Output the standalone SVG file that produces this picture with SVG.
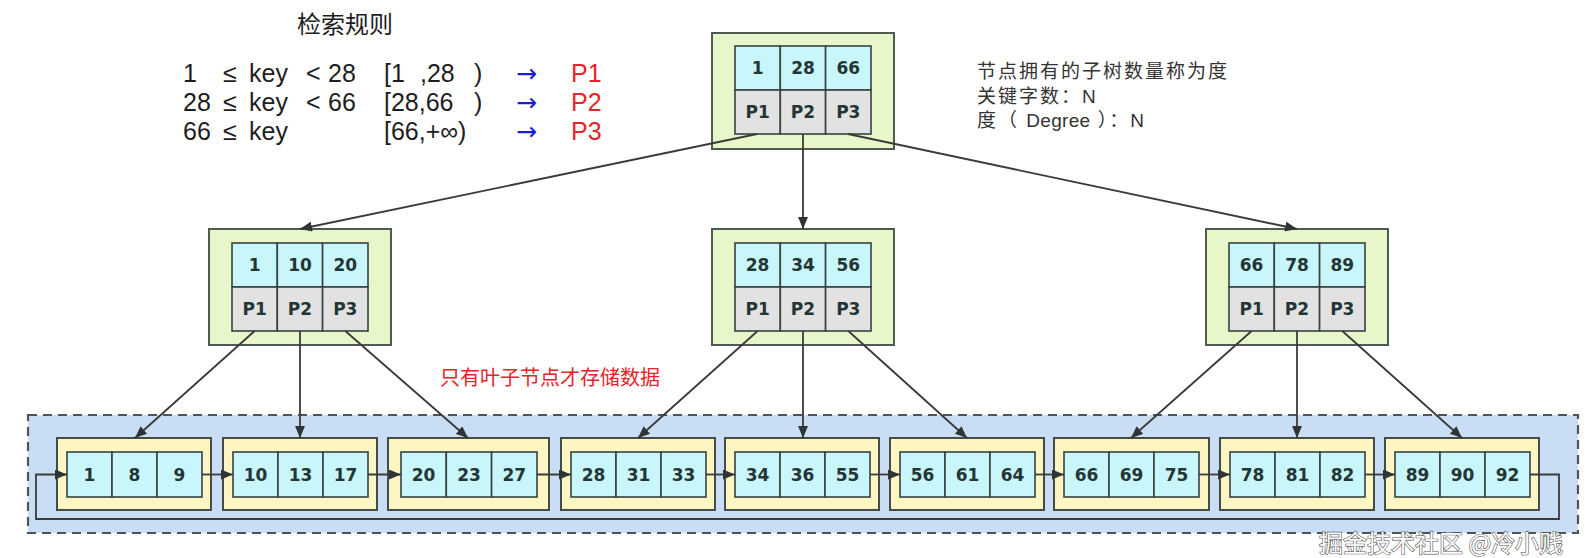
<svg xmlns="http://www.w3.org/2000/svg" width="1596" height="558" viewBox="0 0 1596 558">
<defs>
<style>
.bg{fill:#ffffff}
.cont{fill:#c9def4;stroke:#4f5457;stroke-width:2.2;stroke-dasharray:9 6}
.gout{fill:#e7f7c9;stroke:#4f5a50;stroke-width:2}
.yout{fill:#fdf6c2;stroke:#454b47;stroke-width:2}
.key{fill:#c8f6fa;stroke:#374141;stroke-width:1.6}
.ptr{fill:#e2e2e2;stroke:#374141;stroke-width:1.6}
.num{font-family:"DejaVu Sans",sans-serif;font-weight:bold;font-size:17px;fill:#243535;text-anchor:middle}
.title{font-family:"Noto Sans CJK SC",sans-serif;font-size:24px;fill:#1e1e1e}
.rule{font-family:"Liberation Sans","DejaVu Sans",sans-serif;font-size:25px;fill:#1e1e1e}
.arr{font-family:"DejaVu Sans",sans-serif;fill:#1b1bd0}
.red{fill:#e8222a}
.note{font-family:"Liberation Sans","Noto Sans CJK SC",sans-serif;font-size:19px;letter-spacing:2px;fill:#333333}
.lat{letter-spacing:0.3px}
.rnote{font-family:"Noto Sans CJK SC",sans-serif;font-size:20px;fill:#e8222a}
.wm{font-family:"Noto Sans CJK SC",sans-serif;font-size:24px;fill:#ffffff;stroke:#555555;stroke-width:1.2;paint-order:stroke}
.ln{fill:none;stroke:#3a3a3a;stroke-width:1.8}
</style>
<marker id="ah" viewBox="0 0 12 10" refX="12" refY="5" markerWidth="12" markerHeight="10" markerUnits="userSpaceOnUse" orient="auto">
<path d="M0,0 L12,5 L0,10 z" fill="#2f3535"/>
</marker>
</defs>
<rect class="bg" x="0" y="0" width="1596" height="558"/>

<g id="rules">
<text class="title" x="297" y="33">检索规则</text>
<text class="rule" y="82"><tspan x="183">1</tspan><tspan x="223">≤</tspan><tspan x="249">key</tspan><tspan x="306">&lt;</tspan><tspan x="328">28</tspan><tspan x="384">[1</tspan><tspan x="420">,28</tspan><tspan x="474">)</tspan><tspan x="516" class="arr">→</tspan><tspan x="571" class="red">P1</tspan></text>
<text class="rule" y="111"><tspan x="183">28</tspan><tspan x="223">≤</tspan><tspan x="249">key</tspan><tspan x="306">&lt;</tspan><tspan x="328">66</tspan><tspan x="384">[28,66</tspan><tspan x="474">)</tspan><tspan x="516" class="arr">→</tspan><tspan x="571" class="red">P2</tspan></text>
<text class="rule" y="140"><tspan x="183">66</tspan><tspan x="223">≤</tspan><tspan x="249">key</tspan><tspan x="384">[66,+∞)</tspan><tspan x="516" class="arr">→</tspan><tspan x="571" class="red">P3</tspan></text>
</g>

<g id="notes">
<text class="note" x="977" y="78">节点拥有的子树数量称为度</text>
<text class="note" x="977" y="103">关键字数：N</text>
<text class="note" x="977" y="127">度（ <tspan class="lat">Degree</tspan> ）：N</text>
<text class="rnote" x="440" y="385">只有叶子节点才存储数据</text>
</g>

<g id="leafArea">
<rect class="cont" x="28" y="415" width="1550" height="118"/>
</g>

<g id="root">
<rect class="gout" x="712" y="33" width="182" height="116"/>
<rect class="key" x="735" y="46" width="45.3" height="44"/><rect class="key" x="780.3" y="46" width="45.3" height="44"/><rect class="key" x="825.6" y="46" width="45.4" height="44"/>
<rect class="ptr" x="735" y="90" width="45.3" height="44"/><rect class="ptr" x="780.3" y="90" width="45.3" height="44"/><rect class="ptr" x="825.6" y="90" width="45.4" height="44"/>
<text class="num" x="757.6" y="74">1</text><text class="num" x="803" y="74">28</text><text class="num" x="848.3" y="74">66</text>
<text class="num" x="757.6" y="118">P1</text><text class="num" x="803" y="118">P2</text><text class="num" x="848.3" y="118">P3</text>
</g>

<g id="midLeft">
<rect class="gout" x="209" y="229" width="182" height="116"/>
<rect class="key" x="232" y="243" width="45.3" height="44"/><rect class="key" x="277.3" y="243" width="45.3" height="44"/><rect class="key" x="322.6" y="243" width="45.4" height="44"/>
<rect class="ptr" x="232" y="287" width="45.3" height="44"/><rect class="ptr" x="277.3" y="287" width="45.3" height="44"/><rect class="ptr" x="322.6" y="287" width="45.4" height="44"/>
<text class="num" x="254.6" y="271">1</text><text class="num" x="300" y="271">10</text><text class="num" x="345.3" y="271">20</text>
<text class="num" x="254.6" y="315">P1</text><text class="num" x="300" y="315">P2</text><text class="num" x="345.3" y="315">P3</text>
</g>

<g id="midCenter">
<rect class="gout" x="712" y="229" width="182" height="116"/>
<rect class="key" x="735" y="243" width="45.3" height="44"/><rect class="key" x="780.3" y="243" width="45.3" height="44"/><rect class="key" x="825.6" y="243" width="45.4" height="44"/>
<rect class="ptr" x="735" y="287" width="45.3" height="44"/><rect class="ptr" x="780.3" y="287" width="45.3" height="44"/><rect class="ptr" x="825.6" y="287" width="45.4" height="44"/>
<text class="num" x="757.6" y="271">28</text><text class="num" x="803" y="271">34</text><text class="num" x="848.3" y="271">56</text>
<text class="num" x="757.6" y="315">P1</text><text class="num" x="803" y="315">P2</text><text class="num" x="848.3" y="315">P3</text>
</g>

<g id="midRight">
<rect class="gout" x="1206" y="229" width="182" height="116"/>
<rect class="key" x="1229" y="243" width="45.3" height="44"/><rect class="key" x="1274.3" y="243" width="45.3" height="44"/><rect class="key" x="1319.6" y="243" width="45.4" height="44"/>
<rect class="ptr" x="1229" y="287" width="45.3" height="44"/><rect class="ptr" x="1274.3" y="287" width="45.3" height="44"/><rect class="ptr" x="1319.6" y="287" width="45.4" height="44"/>
<text class="num" x="1251.6" y="271">66</text><text class="num" x="1297" y="271">78</text><text class="num" x="1342.3" y="271">89</text>
<text class="num" x="1251.6" y="315">P1</text><text class="num" x="1297" y="315">P2</text><text class="num" x="1342.3" y="315">P3</text>
</g>

<g id="leaf1">
<rect class="yout" x="57" y="438" width="154" height="72"/>
<rect class="key" x="67" y="452" width="45" height="45"/><rect class="key" x="112" y="452" width="45" height="45"/><rect class="key" x="157" y="452" width="45" height="45"/>
<text class="num" x="89.5" y="480.5">1</text><text class="num" x="134.5" y="480.5">8</text><text class="num" x="179.5" y="480.5">9</text>
</g>
<g id="leaf2">
<rect class="yout" x="223" y="438" width="154" height="72"/>
<rect class="key" x="233" y="452" width="45" height="45"/><rect class="key" x="278" y="452" width="45" height="45"/><rect class="key" x="323" y="452" width="45" height="45"/>
<text class="num" x="255.5" y="480.5">10</text><text class="num" x="300.5" y="480.5">13</text><text class="num" x="345.5" y="480.5">17</text>
</g>
<g id="leaf3">
<rect class="yout" x="388" y="438" width="161" height="72"/>
<rect class="key" x="401" y="452" width="45.3" height="45"/><rect class="key" x="446.3" y="452" width="45.3" height="45"/><rect class="key" x="491.6" y="452" width="45.4" height="45"/>
<text class="num" x="423.6" y="480.5">20</text><text class="num" x="469" y="480.5">23</text><text class="num" x="514.3" y="480.5">27</text>
</g>
<g id="leaf4">
<rect class="yout" x="561" y="438" width="154" height="72"/>
<rect class="key" x="571" y="452" width="45" height="45"/><rect class="key" x="616" y="452" width="45" height="45"/><rect class="key" x="661" y="452" width="45" height="45"/>
<text class="num" x="593.5" y="480.5">28</text><text class="num" x="638.5" y="480.5">31</text><text class="num" x="683.5" y="480.5">33</text>
</g>
<g id="leaf5">
<rect class="yout" x="725" y="438" width="154" height="72"/>
<rect class="key" x="735" y="452" width="45" height="45"/><rect class="key" x="780" y="452" width="45" height="45"/><rect class="key" x="825" y="452" width="45" height="45"/>
<text class="num" x="757.5" y="480.5">34</text><text class="num" x="802.5" y="480.5">36</text><text class="num" x="847.5" y="480.5">55</text>
</g>
<g id="leaf6">
<rect class="yout" x="890" y="438" width="154" height="72"/>
<rect class="key" x="900" y="452" width="45" height="45"/><rect class="key" x="945" y="452" width="45" height="45"/><rect class="key" x="990" y="452" width="45" height="45"/>
<text class="num" x="922.5" y="480.5">56</text><text class="num" x="967.5" y="480.5">61</text><text class="num" x="1012.5" y="480.5">64</text>
</g>
<g id="leaf7">
<rect class="yout" x="1054" y="438" width="155" height="72"/>
<rect class="key" x="1064" y="452" width="45" height="45"/><rect class="key" x="1109" y="452" width="45" height="45"/><rect class="key" x="1154" y="452" width="45" height="45"/>
<text class="num" x="1086.5" y="480.5">66</text><text class="num" x="1131.5" y="480.5">69</text><text class="num" x="1176.5" y="480.5">75</text>
</g>
<g id="leaf8">
<rect class="yout" x="1220" y="438" width="154" height="72"/>
<rect class="key" x="1230" y="452" width="45" height="45"/><rect class="key" x="1275" y="452" width="45" height="45"/><rect class="key" x="1320" y="452" width="45" height="45"/>
<text class="num" x="1252.5" y="480.5">78</text><text class="num" x="1297.5" y="480.5">81</text><text class="num" x="1342.5" y="480.5">82</text>
</g>
<g id="leaf9">
<rect class="yout" x="1385" y="438" width="154" height="72"/>
<rect class="key" x="1395" y="452" width="45" height="45"/><rect class="key" x="1440" y="452" width="45" height="45"/><rect class="key" x="1485" y="452" width="45" height="45"/>
<text class="num" x="1417.5" y="480.5">89</text><text class="num" x="1462.5" y="480.5">90</text><text class="num" x="1507.5" y="480.5">92</text>
</g>

<g id="connectors">
<path class="ln" d="M757,134 L300,229" marker-end="url(#ah)"/>
<path class="ln" d="M803,134 L803,229" marker-end="url(#ah)"/>
<path class="ln" d="M848,134 L1297,229" marker-end="url(#ah)"/>
<path class="ln" d="M254.6,331 L135,438" marker-end="url(#ah)"/>
<path class="ln" d="M300,331 L300,438" marker-end="url(#ah)"/>
<path class="ln" d="M345.3,331 L468,438" marker-end="url(#ah)"/>
<path class="ln" d="M757.6,331 L638,438" marker-end="url(#ah)"/>
<path class="ln" d="M803,331 L803,438" marker-end="url(#ah)"/>
<path class="ln" d="M848.3,331 L967,438" marker-end="url(#ah)"/>
<path class="ln" d="M1251.6,331 L1131,438" marker-end="url(#ah)"/>
<path class="ln" d="M1297,331 L1297,438" marker-end="url(#ah)"/>
<path class="ln" d="M1342.3,331 L1462,438" marker-end="url(#ah)"/>
<path class="ln" d="M202,474.5 H233" marker-end="url(#ah)"/>
<path class="ln" d="M368,474.5 H401" marker-end="url(#ah)"/>
<path class="ln" d="M537,474.5 H571" marker-end="url(#ah)"/>
<path class="ln" d="M706,474.5 H735" marker-end="url(#ah)"/>
<path class="ln" d="M870,474.5 H900" marker-end="url(#ah)"/>
<path class="ln" d="M1035,474.5 H1064" marker-end="url(#ah)"/>
<path class="ln" d="M1199,474.5 H1230" marker-end="url(#ah)"/>
<path class="ln" d="M1365,474.5 H1395" marker-end="url(#ah)"/>
<path class="ln" d="M1530,474.5 H1559 V519 H36 V474.5 H67" marker-end="url(#ah)"/>
</g>

<g id="watermark">
<text class="wm" x="1319" y="552">掘金技术社区 @冷小贱</text>
</g>
</svg>
